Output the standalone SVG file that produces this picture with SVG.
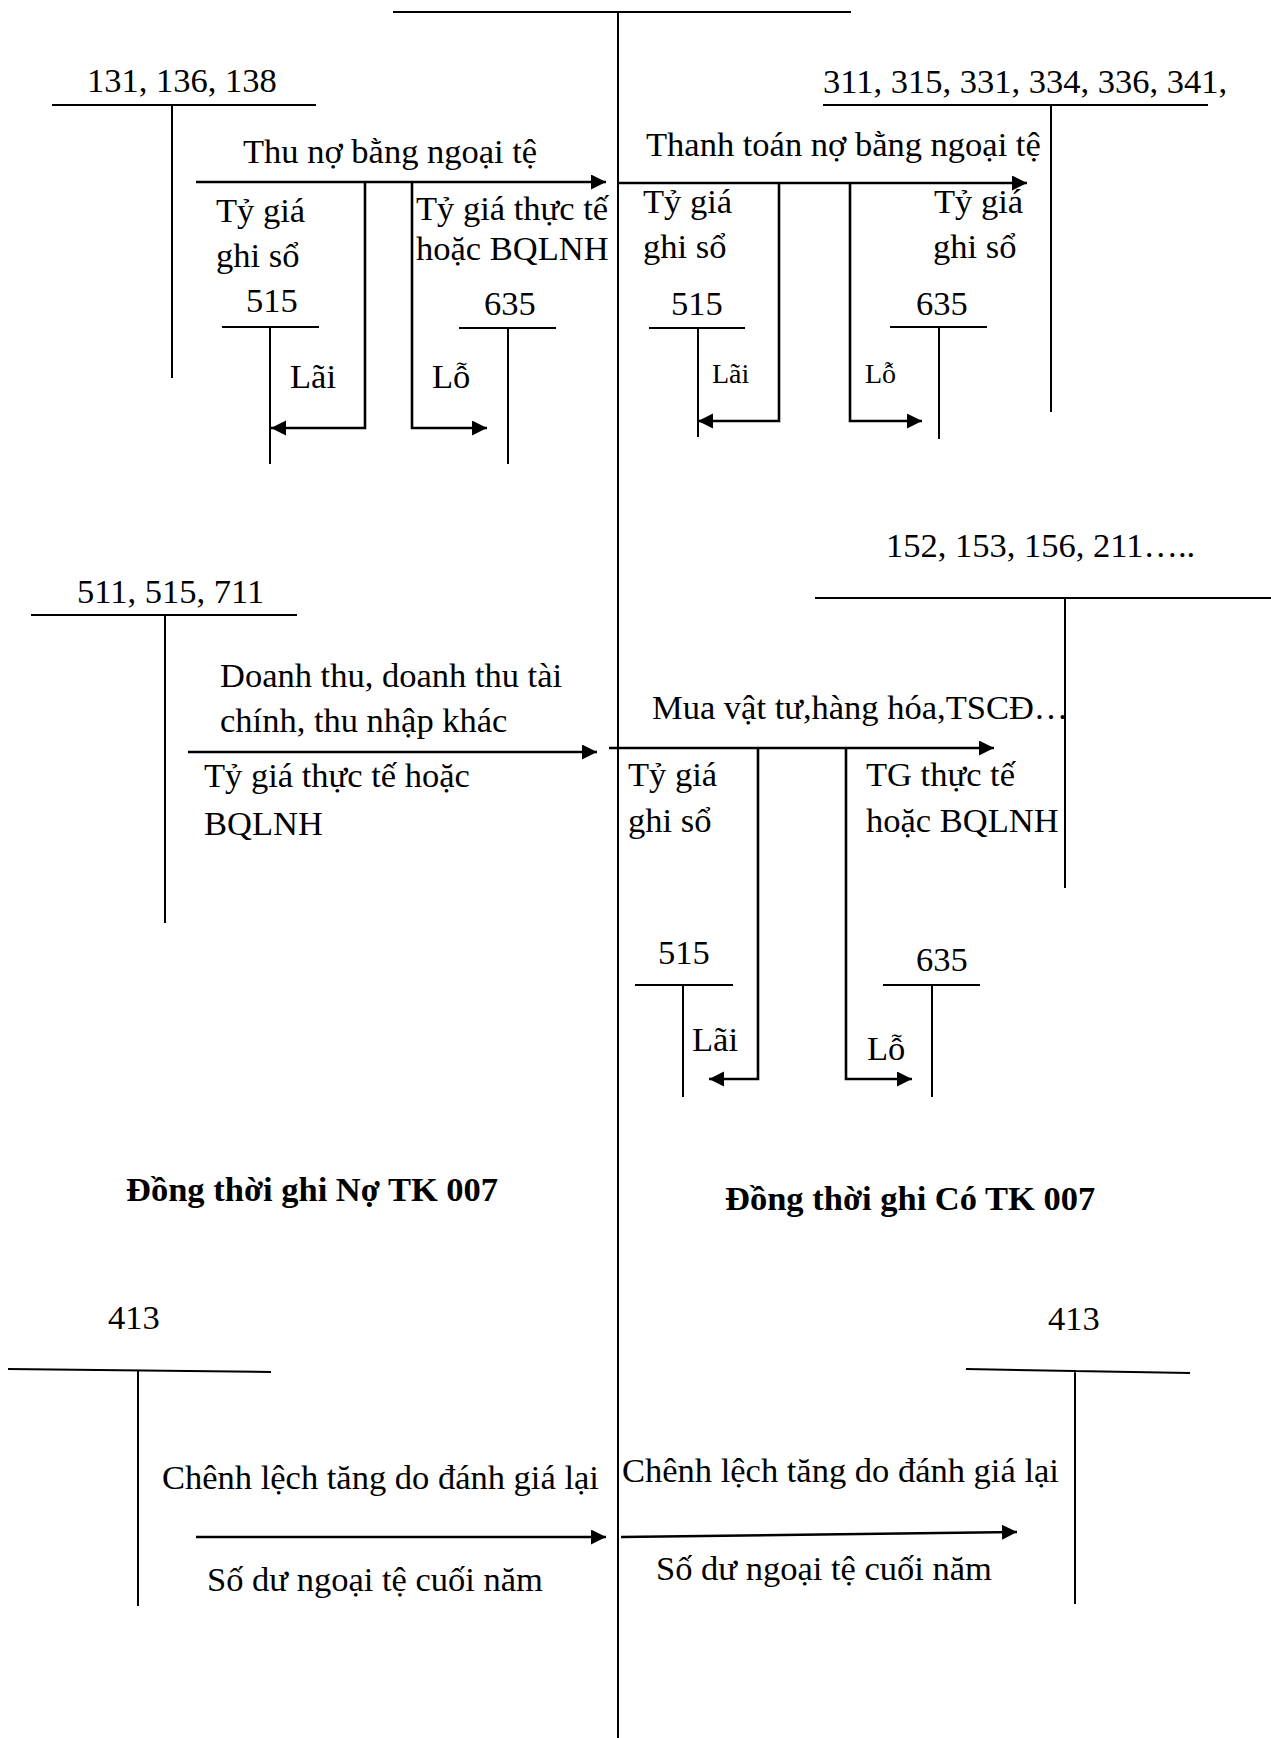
<svg xmlns="http://www.w3.org/2000/svg" width="1271" height="1738" viewBox="0 0 1271 1738">
<style>
text{font-family:"Liberation Serif","Times New Roman",serif;font-size:34.5px;fill:#000}
.sm{font-size:28px}
.b{font-weight:bold}
.t{stroke:#000;stroke-width:2;fill:none}
.a{stroke:#000;stroke-width:2.6;fill:none;marker-end:url(#ah)}
</style>
<defs>
<marker id="ah" markerUnits="userSpaceOnUse" markerWidth="18" markerHeight="18" refX="15" refY="7.5" orient="auto">
<path d="M0,0 L15,7.5 L0,15 z" fill="#000"/>
</marker>
</defs>
<rect width="1271" height="1738" fill="#fff"/>

<g id="tk-main">
<path class="t" d="M393,12 H851 M618,12 V1738"/>
</g>

<g id="tk-131">
<path class="t" d="M52,105 H316 M172,105 V378"/>
<text x="87" y="92">131, 136, 138</text>
</g>
<g id="tk-515-a">
<path class="t" d="M222,327 H319 M270,327 V464"/>
<text x="246" y="312">515</text>
</g>
<g id="tk-635-a">
<path class="t" d="M459,328 H556 M508,328 V464"/>
<text x="484" y="315">635</text>
</g>

<g id="tk-311">
<path class="t" d="M823,105 H1208 M1051,105 V412"/>
<text x="823" y="93">311, 315, 331, 334, 336, 341,</text>
</g>
<g id="tk-515-b">
<path class="t" d="M649,328 H745 M698,328 V437"/>
<text x="671" y="315">515</text>
</g>
<g id="tk-635-b">
<path class="t" d="M890,327 H987 M939,327 V439"/>
<text x="916" y="315">635</text>
</g>

<g id="tk-511">
<path class="t" d="M31,615 H297 M165,615 V923"/>
<text x="77" y="603">511, 515, 711</text>
</g>

<g id="tk-152">
<path class="t" d="M815,598 H1271 M1065,598 V888"/>
<text x="886" y="557">152, 153, 156, 211…..</text>
</g>
<g id="tk-515-c">
<path class="t" d="M635,985 H733 M683,985 V1097"/>
<text x="658" y="964">515</text>
</g>
<g id="tk-635-c">
<path class="t" d="M883,985 H980 M932,985 V1097"/>
<text x="916" y="971">635</text>
</g>

<g id="note-left">
<text class="b" x="126" y="1201">Đồng thời ghi Nợ TK 007</text>
</g>
<g id="note-right">
<text class="b" x="725" y="1210">Đồng thời ghi Có TK 007</text>
</g>

<g id="tk-413-left">
<path class="t" d="M8,1369 L271,1372 M138,1371 V1606"/>
<text x="108" y="1329">413</text>
</g>
<g id="tk-413-right">
<path class="t" d="M966,1369 L1190,1373 M1075,1370 V1604"/>
<text x="1048" y="1330">413</text>
</g>

<g id="connectors">
<path class="a" d="M196,182 H606"/>
<path class="a" d="M365,182 V428 H271"/>
<path class="a" d="M412,182 V428 H487"/>
<text x="243" y="163">Thu nợ bằng ngoại tệ</text>
<text x="216" y="222">Tỷ giá</text>
<text x="216" y="267">ghi sổ</text>
<text x="416" y="220">Tỷ giá thực tế</text>
<text x="416" y="260">hoặc BQLNH</text>
<text x="290" y="388">Lãi</text>
<text x="432" y="388">Lỗ</text>

<path class="a" d="M618,183 H1027"/>
<path class="a" d="M779,183 V421 H698"/>
<path class="a" d="M850,183 V421 H922"/>
<text x="646" y="156">Thanh toán nợ bằng ngoại tệ</text>
<text x="643" y="213">Tỷ giá</text>
<text x="643" y="258">ghi sổ</text>
<text x="934" y="213">Tỷ giá</text>
<text x="933" y="258">ghi sổ</text>
<text class="sm" x="712" y="383">Lãi</text>
<text class="sm" x="865" y="383">Lỗ</text>

<path class="a" d="M188,752 H597"/>
<text x="220" y="687">Doanh thu, doanh thu tài</text>
<text x="220" y="732">chính, thu nhập khác</text>
<text x="204" y="787">Tỷ giá thực tế hoặc</text>
<text x="204" y="835">BQLNH</text>

<path class="a" d="M609,748 H994"/>
<path class="a" d="M758,748 V1079 H709"/>
<path class="a" d="M846,748 V1079 H912"/>
<text x="652" y="719">Mua vật tư,hàng hóa,TSCĐ…</text>
<text x="628" y="786">Tỷ giá</text>
<text x="628" y="832">ghi sổ</text>
<text x="866" y="786">TG thực tế</text>
<text x="866" y="832">hoặc BQLNH</text>
<text x="692" y="1051">Lãi</text>
<text x="867" y="1060">Lỗ</text>

<path class="a" d="M196,1537 H606"/>
<path class="a" d="M621,1537 L1017,1532"/>
<text x="162" y="1489">Chênh lệch tăng do đánh giá lại</text>
<text x="207" y="1591">Số dư ngoại tệ cuối năm</text>
<text x="622" y="1482">Chênh lệch tăng do đánh giá lại</text>
<text x="656" y="1580">Số dư ngoại tệ cuối năm</text>
</g>
</svg>
